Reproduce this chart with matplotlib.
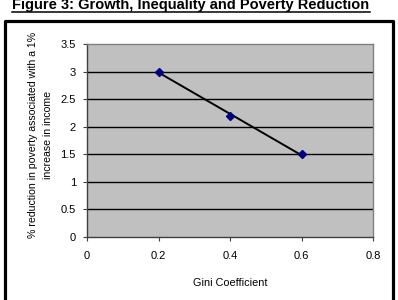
import numpy as np
import matplotlib
matplotlib.use("Agg")
import matplotlib.pyplot as plt
from matplotlib.lines import Line2D

plt.rcParams['font.family'] = ['Liberation Sans', 'DejaVu Sans']

gini = [0.2, 0.4, 0.6]
reduction = [3.0, 2.2, 1.5]
xticks = [0, 0.2, 0.4, 0.6, 0.8]
yticks = [0, 0.5, 1, 1.5, 2, 2.5, 3, 3.5]
title = "Figure 3: Growth, Inequality and Poverty Reduction"
xlabel = "Gini Coefficient"
ylabel = "% reduction in poverty associated with a 1%\nincrease in income"

fig = plt.figure(figsize=(3.98, 3.0), dpi=100)
W, H = 398, 300

# outer border (bottom edge cut off)
fig.add_artist(Line2D([4.5 / W, 4.5 / W, 393 / W, 393 / W],
                      [-0.05, 1 - 20.5 / H, 1 - 20.5 / H, -0.05],
                      transform=fig.transFigure, color='black', lw=2.3))

ax = fig.add_axes([87 / W, 1 - 237 / H, 286 / W, 193 / H])
ax.set_facecolor('#C0C0C0')
ax.set_xlim(0, 0.8)
ax.set_ylim(0, 3.5)
ax.set_xticks(xticks)
ax.set_xticklabels([f"{t:g}" for t in xticks])
ax.set_yticks(yticks)
ax.set_yticklabels([f"{t:g}" for t in yticks])
for y in yticks[1:-1]:
    ax.axhline(y, color='black', lw=1.0, zorder=1)
for s in ax.spines.values():
    s.set_color('#808080')
    s.set_linewidth(1.0)
ax.spines['left'].set_color('#404040')
ax.spines['bottom'].set_color('#404040')
ax.tick_params(direction='out', length=3, width=0.8, color='#404040',
               labelsize=8, colors='black')
ax.tick_params(axis='x', pad=7)
ax.tick_params(axis='y', pad=5)

# linear trendline
coef = np.polyfit(gini, reduction, 1)
xs = np.array([min(gini), max(gini)])
ax.plot(xs, np.polyval(coef, xs), color='black', lw=1.4, zorder=3)
ax.plot(gini, reduction, linestyle='none', marker='D', markersize=3.6,
        color='#000080', zorder=4)

ax.set_xlabel(xlabel, fontsize=7.8)
ax.xaxis.set_label_coords(0.5, (237 - 278) / 193)
ax.set_ylabel(ylabel, fontsize=7.6, multialignment='center', linespacing=1.6)
ax.yaxis.set_label_coords((53 - 87) / 286, (237 - 135) / 193)

# title with underline
t = fig.text(12.5 / W, 1 - 9 / H, title, fontsize=10.5, fontweight='bold',
             ha='left', va='baseline')
fig.canvas.draw()
bb = t.get_window_extent(fig.canvas.get_renderer())
fig.add_artist(Line2D([bb.x0 / W, bb.x1 / W], [1 - 11.5 / H, 1 - 11.5 / H],
                      transform=fig.transFigure, color='black', lw=1.1))

fig.savefig('out.png', dpi=100)
